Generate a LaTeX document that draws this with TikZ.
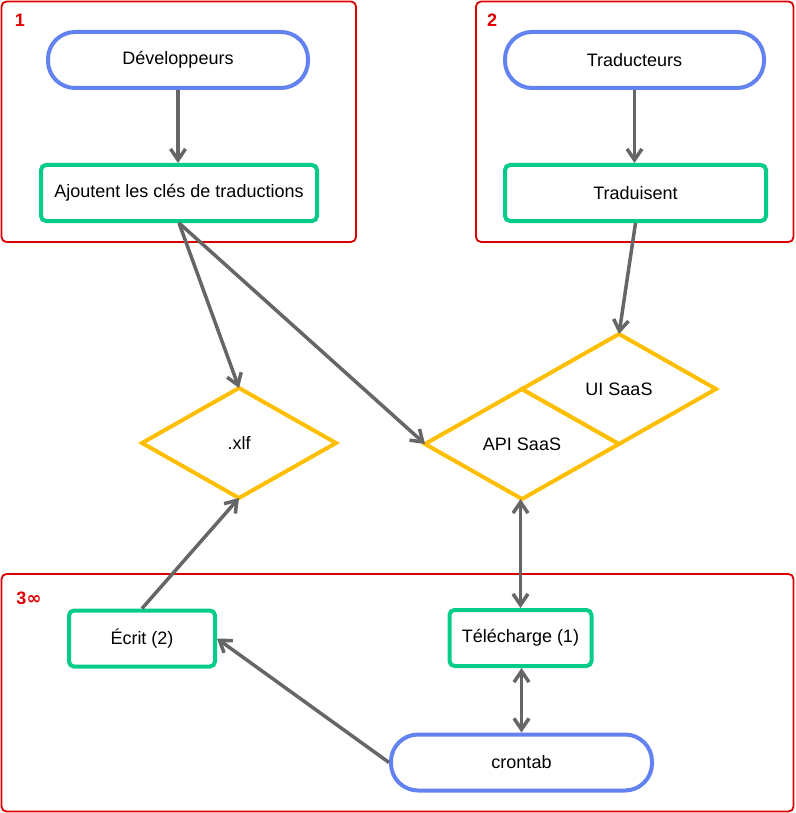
\documentclass[tikz,border=0pt]{standalone}
\usepackage{fontspec}
\setmainfont{Liberation Sans}
\newfontfamily\djv{DejaVu Sans}
\usetikzlibrary{arrows.meta,shapes.geometric}
\definecolor{cred}{HTML}{DD0000}
\definecolor{cblue}{HTML}{6382F2}
\definecolor{cgreen}{HTML}{05CC87}
\definecolor{cyellow}{HTML}{FFBF00}
\definecolor{cgray}{HTML}{666666}
\tikzset{
  container/.style={draw=cred, line width=1.8pt, rounded corners=5pt},
  grplabel/.style={text=cred, font=\fontsize{18}{21}\selectfont\bfseries, inner sep=0pt},
  pill/.style={draw=cblue, line width=4pt, fill=white, rounded corners=27pt, minimum height=56pt, inner sep=0pt, font=\fontsize{18}{21}\selectfont},
  stepbox/.style={draw=cgreen, line width=4pt, fill=white, rounded corners=5pt, minimum height=56pt, inner sep=0pt, font=\fontsize{18}{21}\selectfont},
  datadiam/.style={diamond, draw=cyellow, line width=4pt, fill=white, minimum width=194pt, minimum height=110pt, inner sep=0pt, outer sep=0pt, font=\fontsize{18}{21}\selectfont},
  conn/.style={draw=cgray, line width=3.5pt, -{Straight Barb[length=11pt,width=15pt]}},
  dconn/.style={draw=cgray, line width=3.5pt, {Straight Barb[length=11pt,width=15pt]}-{Straight Barb[length=11pt,width=15pt]}},
}
\begin{document}
\begin{tikzpicture}[x=1pt,y=-1pt]
\useasboundingbox (0,0) rectangle (795,813);
% containers
\draw[container] (1.5,1.5) rectangle (356,242);
\draw[container] (476,1.5) rectangle (793.5,242);
\draw[container] (1.5,574) rectangle (793.5,811.5);
\node[grplabel] (l1) at (20,20) {1};
\node[grplabel] (l2) at (492,20) {2};
\node[grplabel] (l3) at (29,598) {3{\djv\bfseries ∞}};
% nodes
\node[pill, minimum width=260pt] (dev) at (178,60) {Développeurs};
\node[stepbox, minimum width=276pt] (ajout) at (179,193) {Ajoutent les clés de traductions};
\node[pill, minimum width=259pt] (trad) at (634.5,60) {Traducteurs};
\node[stepbox, minimum width=261pt] (tradu) at (635.5,193) {Traduisent};
\node[datadiam] (xlf) at (239,443) {.xlf};
\node[datadiam] (api) at (522,444) {API SaaS};
\node[datadiam, anchor=west] (ui) at (api.north) {UI SaaS};
\node[stepbox, minimum width=146pt] (ecrit) at (142,638.5) {Écrit (2)};
\node[stepbox, minimum width=142pt] (tele) at (520.5,638) {Télécharge (1)};
\node[pill, minimum width=261pt] (cron) at (521.5,762.5) {crontab};
% connectors
\draw[conn] (dev.south) -- (dev.south |- ajout.north);
\draw[conn] (trad.south) -- (trad.south |- tradu.north);
\draw[conn] (ajout.south) -- (xlf.north);
\draw[conn] (ajout.south) -- (api.west);
\draw[conn] (tradu.south) -- (ui.north);
\draw[conn] (ecrit.north) -- (xlf.south);
\draw[dconn] (tele.north) -- (tele.north |- api.south);
\draw[dconn] (cron.north) -- (cron.north |- tele.south);
\draw[conn] (cron.west) -- (ecrit.east);
\end{tikzpicture}
\end{document}
